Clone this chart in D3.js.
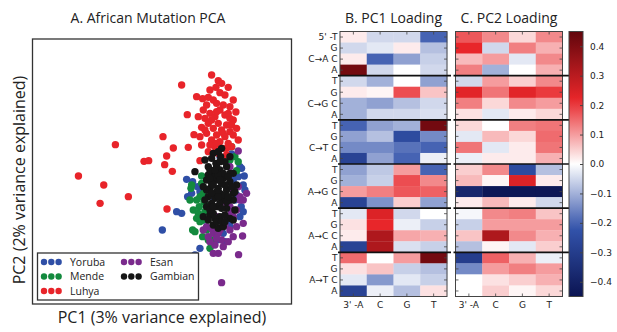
<!DOCTYPE html>
<html>
<head>
<meta charset="utf-8">
<script src="https://cdn.jsdelivr.net/npm/d3@7"></script>
<style>
  body { margin: 0; background: #fff; }
  svg { display: block; }
</style>
</head>
<body>
<script>
// PCA scores (arbitrary units)
const yoruba = [[0.95,1.38],[1.20,1.00],[1.33,0.72],[-0.40,0.62],[-0.22,0.55],[-0.07,0.40],[0.15,0.32],[1.35,0.30],[-0.37,0.10],[1.24,-0.20],[-0.70,-0.35],[-0.55,-0.40],[1.20,-0.50],[-1.13,-0.90],[0.88,-0.70],[0.00,-1.45],[-0.15,-1.65],[0.70,-1.00],[0.50,-1.20],[1.00,0.60],[0.40,0.10],[1.05,0.00],[0.12,-0.60],[1.15,0.70],[1.30,0.45],[0.85,1.10],[0.00,0.25],[0.60,1.30],[0.90,-0.80],
  [1.25,0.95],[1.10,0.15],[1.30,-0.35],[0.75,-1.25],[-0.25,0.20],[0.35,-1.35]];
const mende = [[0.95,1.60],[1.15,1.15],[1.10,0.88],[0.05,0.72],[-0.27,0.35],[0.00,0.10],[0.12,-0.05],[-0.20,-0.30],[-0.05,-0.40],[-0.22,-0.90],[-0.15,-0.95],[0.08,-1.10],[0.30,-1.45],[0.08,-0.60],[0.50,-1.00],[0.40,-1.20],[0.90,1.20],[0.20,-0.15],[-0.02,-0.20],[-0.10,0.00],[-0.25,0.45],[0.10,0.20],[0.00,-0.65],[0.20,-0.90],[1.05,1.30],
  [-0.10,-0.55],[0.15,-0.35],[-0.30,0.00],[0.25,-1.20],[0.05,0.50]];
const luhya = [[-3.65,0.72],[-2.89,0.45],[-3.00,-0.10],[-2.15,0.10],[-2.54,1.66],[-1.68,1.16],[-1.54,1.18],[-1.11,1.90],[-0.80,1.56],[-1.00,1.32],[-1.06,1.06],[-0.83,0.86],[-0.99,-0.27],[-0.55,3.45],[-0.35,1.58],[-0.38,2.56],[-0.18,1.96],[0.00,1.18],
  [0.35,3.75],[0.55,3.58],[0.65,3.50],[0.85,3.38],[0.60,3.22],[0.08,3.04],[0.25,3.08],[0.40,3.00],[1.00,3.00],[0.50,2.90],[0.70,2.85],[0.90,2.80],[0.10,2.70],[0.30,2.60],[0.60,2.70],[1.08,2.64],[-0.05,2.50],[0.15,2.45],[0.45,2.50],[0.75,2.55],[1.00,2.40],[0.25,2.30],[0.55,2.30],[0.80,2.25],[0.05,2.18],[0.40,2.15],[0.65,2.10],[0.90,2.05],[0.20,2.00],[0.50,1.95],[0.75,1.90],[1.00,1.95],[0.35,1.80],[0.60,1.75],[0.85,1.70],[1.15,1.80],[0.05,1.65],[0.45,1.60],[0.70,1.55],[0.95,1.60],[0.25,1.45],[0.55,1.40],[0.80,1.35],[0.48,3.38],[0.90,2.45],[0.00,1.90],
  [0.30,3.30],[0.75,3.15],[0.20,2.85],[0.85,2.60],[0.35,2.40],[0.70,2.00],[0.30,1.65],[0.95,2.25],[0.50,2.65],[0.15,2.10],[0.80,1.55],[0.50,1.70],[-0.10,3.10],[1.10,2.15]];
const esan = [[1.15,1.47],[0.90,1.00],[1.40,0.20],[1.20,0.00],[1.30,-0.70],[1.28,-1.08],[1.00,-1.10],[1.16,-1.64],[0.65,-2.48],[0.10,-0.90],[0.25,-1.10],[0.45,-1.35],[0.55,-1.60],[0.40,-1.60],[0.65,-1.20],[0.90,-0.90],[1.00,-0.50],[1.10,-0.30],[0.80,-0.50],[0.20,-0.80],[0.60,-0.90],[0.40,-1.00],[0.80,-0.10],[1.00,0.30],[0.50,-0.50],[0.90,-0.20],[1.15,0.40],[1.30,0.00],[0.30,-1.25],[0.70,-1.40],[1.20,0.10],
  [0.55,-1.00],[0.75,-0.75],[0.35,-0.85],[0.85,-1.25],[0.50,-1.15],[1.10,-0.80],[0.95,-0.35]];
const gambian = [[0.40,1.40],[0.65,1.55],[0.15,1.20],[0.48,1.10],[0.62,1.30],[0.90,1.30],[-0.15,0.85],[0.25,1.00],[0.40,0.85],[0.60,0.90],[0.80,1.00],[1.00,0.80],[0.20,0.60],[0.50,0.60],[0.70,0.65],[0.90,0.55],[1.10,0.45],[0.30,0.35],[0.55,0.35],[0.80,0.30],[1.00,0.20],[0.25,0.10],[0.45,0.05],[0.65,0.05],[0.90,0.00],[0.20,-0.20],[0.50,-0.20],[0.80,-0.25],[1.05,-0.30],[0.30,-0.45],[0.60,-0.50],[0.90,-0.55],[0.40,-0.75],[0.55,-0.85],[0.70,-0.80],[0.10,-0.50],[0.35,-0.10],[0.60,-0.10],[1.00,0.00],[0.75,0.45],[0.45,0.70],[0.25,0.75],[0.90,0.80],[1.05,0.25],[0.60,0.20],[0.40,-0.40],[0.15,0.00],[1.00,-0.60],[0.50,1.00],[0.70,0.80],[0.35,0.50],[0.65,-0.25],[0.55,1.45],
  [0.35,1.25],[0.75,1.15],[0.30,0.90],[0.55,0.75],[0.85,0.70],[0.40,0.45],[0.65,0.50],[0.95,0.40],[0.20,0.30],[0.50,0.25],[0.75,0.15],[0.35,0.20],[0.55,0.10],[0.80,-0.05],[0.30,-0.30],[0.45,-0.55],[0.75,-0.45],[0.50,-0.65],[0.65,-0.65],[0.25,-0.60],[0.85,0.10],[0.10,0.40],[0.45,0.90],[0.60,1.15],[0.75,-0.65],[0.40,-0.20],[0.60,0.60],[0.30,0.65]];

const populations = ['Yoruba', 'Mende', 'Luhya', 'Esan', 'Gambian'];
const popColors = ['#2f4fa6', '#138a3e', '#e8242a', '#7a2a8c', '#151515'];
const popData = [yoruba, mende, luhya, esan, gambian];

// loadings: 24 rows (6 mutation types x 4 five-prime bases), 4 columns (three-prime base)
const mutTypes = ['C\u2192A', 'C\u2192G', 'C\u2192T', 'A\u2192G', 'A\u2192C', 'A\u2192T'];
const fiveBases = ['T', 'G', 'C', 'A'];
const threeBases = ['A', 'C', 'G', 'T'];
const colLabels = ["3' -A", 'C', 'G', 'T'];

const pc1 = [
  [0.02, -0.05, -0.05, -0.20], [-0.05, -0.03, 0.02, -0.08], [0.02, -0.20, -0.12, -0.06], [0.42, -0.05, 0.00, -0.05],
  [-0.05, -0.10, 0.00, -0.12], [0.02, 0.01, 0.18, 0.06], [-0.10, -0.12, -0.08, -0.05], [-0.10, -0.05, -0.05, -0.04],
  [-0.20, -0.12, -0.10, 0.42], [-0.12, -0.08, -0.25, -0.15], [-0.15, -0.15, -0.18, -0.20], [-0.28, -0.12, -0.20, -0.02],
  [-0.12, -0.07, 0.10, -0.20], [-0.10, -0.06, 0.18, 0.12], [0.10, 0.13, 0.17, 0.16], [-0.28, -0.14, 0.05, -0.12],
  [-0.03, 0.24, -0.05, 0.00], [0.03, 0.22, -0.02, -0.06], [0.02, 0.32, 0.09, 0.08], [-0.28, 0.32, -0.04, -0.06],
  [0.15, 0.00, 0.10, 0.42], [0.03, 0.06, -0.06, -0.08], [-0.03, -0.13, -0.03, -0.06], [-0.28, -0.02, -0.08, 0.03]
];
const pc2 = [
  [0.17, 0.12, 0.04, 0.12], [0.22, -0.05, 0.13, 0.08], [0.07, 0.10, -0.03, 0.12], [0.13, -0.10, 0.00, 0.08],
  [-0.05, 0.10, 0.05, 0.12], [0.23, 0.14, 0.23, 0.20], [0.13, 0.04, 0.12, 0.10], [0.03, -0.03, 0.02, 0.04],
  [0.04, 0.00, 0.13, 0.14], [-0.03, 0.07, 0.04, 0.15], [0.14, -0.03, 0.02, 0.14], [-0.02, 0.02, 0.02, 0.08],
  [0.05, 0.12, -0.25, -0.08], [0.07, 0.01, 0.24, 0.02], [-0.38, -0.44, -0.44, -0.44], [0.02, 0.07, 0.02, -0.05],
  [-0.01, 0.12, 0.13, 0.06], [-0.06, 0.10, 0.10, 0.10], [0.06, 0.32, 0.12, 0.08], [-0.08, 0.01, -0.03, 0.05],
  [-0.30, 0.16, 0.08, -0.02], [-0.15, 0.10, 0.13, 0.10], [0.00, 0.03, 0.05, 0.08], [0.00, 0.05, 0.01, 0.04]
];
const cbarTicks = [0.4, 0.3, 0.2, 0.1, 0.0, -0.1, -0.2, -0.3, -0.4];

const width = 617, height = 332;
const titleFont = "'Open Sans', sans-serif";
const tickFont = "'DejaVu Sans', sans-serif";

const svg = d3.select('body').append('svg')
  .attr('width', width)
  .attr('height', height);

// ---- A. scatter ----
const sx = d3.scaleLinear().domain([-5.03, 2.75]).range([32.5, 291.5]);
const sy = d3.scaleLinear().domain([-3.12, 4.83]).range([304, 39]);

svg.append('text')
  .attr('x', 148).attr('y', 23)
  .attr('text-anchor', 'middle')
  .style('font', '14px ' + titleFont)
  .attr('fill', '#222')
  .text('A. African Mutation PCA');

const scatter = svg.append('g');
popData.forEach((pts, i) => {
  scatter.append('g')
    .selectAll('circle')
    .data(pts)
    .enter()
    .append('circle')
    .attr('cx', d => sx(d[0]))
    .attr('cy', d => sy(d[1]))
    .attr('r', 3.7)
    .attr('fill', popColors[i]);
});

svg.append('rect')
  .attr('x', 32.5).attr('y', 39)
  .attr('width', 259).attr('height', 265)
  .attr('fill', 'none')
  .attr('stroke', '#333')
  .attr('stroke-width', 1.3);

svg.append('text')
  .attr('x', 162).attr('y', 323)
  .attr('text-anchor', 'middle')
  .style('font', '16px ' + titleFont)
  .attr('fill', '#222')
  .text('PC1 (3% variance explained)');

svg.append('text')
  .attr('transform', 'translate(25,180) rotate(-90)')
  .attr('text-anchor', 'middle')
  .style('font', '16px ' + titleFont)
  .attr('fill', '#222')
  .text('PC2 (2% variance explained)');

// legend
const legend = svg.append('g').attr('id', 'legend');
legend.append('rect')
  .attr('x', 37.5).attr('y', 253)
  .attr('width', 161).attr('height', 47)
  .attr('fill', '#fff')
  .attr('stroke', '#333')
  .attr('stroke-width', 1.3);

const legPos = [[44, 262], [44, 276.5], [44, 291], [124, 262], [124, 276.5]];
populations.forEach((name, i) => {
  const [lx, ly] = legPos[i];
  legend.selectAll(null)
    .data([0, 1, 2])
    .enter()
    .append('circle')
    .attr('cx', k => lx + k * 7.3)
    .attr('cy', ly)
    .attr('r', 3.2)
    .attr('fill', popColors[i]);
  legend.append('text')
    .attr('x', lx + 26).attr('y', ly + 3.8)
    .style('font', '10.5px ' + titleFont)
    .attr('fill', '#222')
    .text(name);
});

// ---- B / C heatmaps ----
const color = d3.scaleLinear()
  .domain([-0.45, -0.22, 0, 0.22, 0.45])
  .range(['#0b1452', '#3353ab', '#ffffff', '#e8262a', '#62060c'])
  .clamp(true);

const rowKeys = d3.range(24);
const y = d3.scaleBand().domain(rowKeys).range([31.5, 296.5]);

function heatmap(x0, x1, values, title, lineEnd, showRowLabels) {
  const x = d3.scaleBand().domain(threeBases).range([x0, x1]);
  const g = svg.append('g');

  g.append('text')
    .attr('x', (x0 + x1) / 2).attr('y', 23)
    .attr('text-anchor', 'middle')
    .style('font', '14px ' + titleFont)
    .attr('fill', '#222')
    .text(title);

  const cells = [];
  values.forEach((row, r) => row.forEach((v, c) => cells.push({ r, c: threeBases[c], v })));
  g.selectAll('rect.cell')
    .data(cells)
    .enter()
    .append('rect')
    .attr('class', 'cell')
    .attr('x', d => x(d.c))
    .attr('y', d => y(d.r))
    .attr('width', x.bandwidth() + 0.3)
    .attr('height', y.bandwidth() + 0.3)
    .attr('fill', d => color(d.v));

  // ticks
  const tk = g.append('g').attr('stroke', '#444').attr('stroke-width', 0.8);
  rowKeys.forEach(r => {
    const cy = y(r) + y.bandwidth() / 2;
    tk.append('line').attr('x1', x0).attr('x2', x0 + 3).attr('y1', cy).attr('y2', cy);
    tk.append('line').attr('x1', x1 - 3).attr('x2', x1).attr('y1', cy).attr('y2', cy);
  });
  threeBases.forEach(b => {
    const cx = x(b) + x.bandwidth() / 2;
    tk.append('line').attr('x1', cx).attr('x2', cx).attr('y1', 31.5).attr('y2', 34.5);
    tk.append('line').attr('x1', cx).attr('x2', cx).attr('y1', 293.5).attr('y2', 296.5);
  });

  g.append('rect')
    .attr('x', x0).attr('y', 31.5)
    .attr('width', x1 - x0).attr('height', 265)
    .attr('fill', 'none')
    .attr('stroke', '#444')
    .attr('stroke-width', 1);

  // group separators
  g.selectAll('line.sep')
    .data([4, 8, 12, 16, 20])
    .enter()
    .append('line')
    .attr('class', 'sep')
    .attr('x1', x0 - 2).attr('x2', lineEnd)
    .attr('y1', d => y(d)).attr('y2', d => y(d))
    .attr('stroke', '#111')
    .attr('stroke-width', 1.6);

  g.selectAll('text.col')
    .data(colLabels)
    .enter()
    .append('text')
    .attr('class', 'col')
    .attr('x', (d, i) => x(threeBases[i]) + x.bandwidth() / 2)
    .attr('y', 307.5)
    .attr('text-anchor', 'middle')
    .style('font', '9px ' + tickFont)
    .attr('fill', '#222')
    .text(d => d);

  if (showRowLabels) {
    rowKeys.forEach(r => {
      const base = fiveBases[r % 4];
      const label = r === 0 ? "5' -" + base : (r % 4 === 2 ? mutTypes[Math.floor(r / 4)] + ' ' + base : base);
      g.append('text')
        .attr('x', x0 - 2.5)
        .attr('y', y(r) + y.bandwidth() / 2 + 3.3)
        .attr('text-anchor', 'end')
        .style('font', '9px ' + tickFont)
        .attr('fill', '#222')
        .text(label);
    });
  }
}

heatmap(340, 447, pc1, 'B. PC1 Loading', 451, true);
heatmap(455.5, 562.5, pc2, 'C. PC2 Loading', 569, false);

// colour bar
const cbY = d3.scaleLinear().domain([-0.45, 0.45]).range([296.5, 31.5]);
const defs = svg.append('defs');
const grad = defs.append('linearGradient')
  .attr('id', 'cbar')
  .attr('x1', 0).attr('y1', 1).attr('x2', 0).attr('y2', 0);
d3.range(0, 1.0001, 0.05).forEach(t => {
  grad.append('stop')
    .attr('offset', t)
    .attr('stop-color', color(-0.45 + t * 0.9));
});
svg.append('rect')
  .attr('x', 569).attr('y', 31.5)
  .attr('width', 14).attr('height', 265)
  .attr('fill', 'url(#cbar)')
  .attr('stroke', '#444')
  .attr('stroke-width', 1);

const cbAxis = d3.axisRight(cbY)
  .tickValues(cbarTicks)
  .tickSize(3)
  .tickPadding(4)
  .tickFormat(d => d3.format('.1f')(d).replace('-', '\u2212'));
const cbG = svg.append('g')
  .attr('transform', 'translate(583,0)')
  .call(cbAxis);
cbG.select('.domain').remove();
cbG.selectAll('.tick line').attr('x2', -3).attr('stroke', '#444');
cbG.selectAll('.tick text')
  .style('font', '9px ' + tickFont)
  .attr('fill', '#222');
</script>
</body>
</html>
